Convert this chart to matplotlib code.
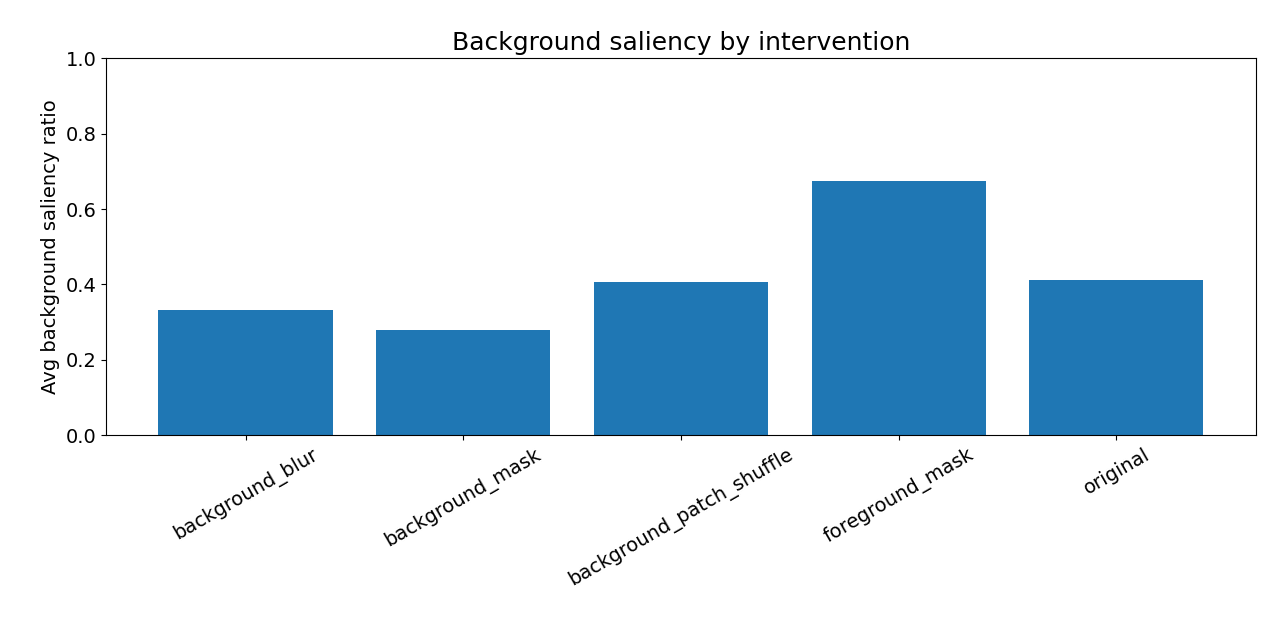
import matplotlib
matplotlib.use("Agg")
import matplotlib.pyplot as plt

categories = ["background_blur", "background_mask", "background_patch_shuffle", "foreground_mask", "original"]
values = [0.332, 0.279, 0.406, 0.674, 0.411]

fig = plt.figure(figsize=(12.8, 6.4), dpi=100)
ax = fig.add_axes([0.083, 0.320, 0.898, 0.589])
ax.bar(categories, values, color="#1f77b4")
ax.set_ylim(0, 1.0)
ax.set_title("Background saliency by intervention", fontsize=18)
ax.set_ylabel("Avg background saliency ratio", fontsize=14)
ax.tick_params(labelsize=14)
plt.setp(ax.get_xticklabels(), rotation=30)
fig.savefig("out.png", dpi=100)
